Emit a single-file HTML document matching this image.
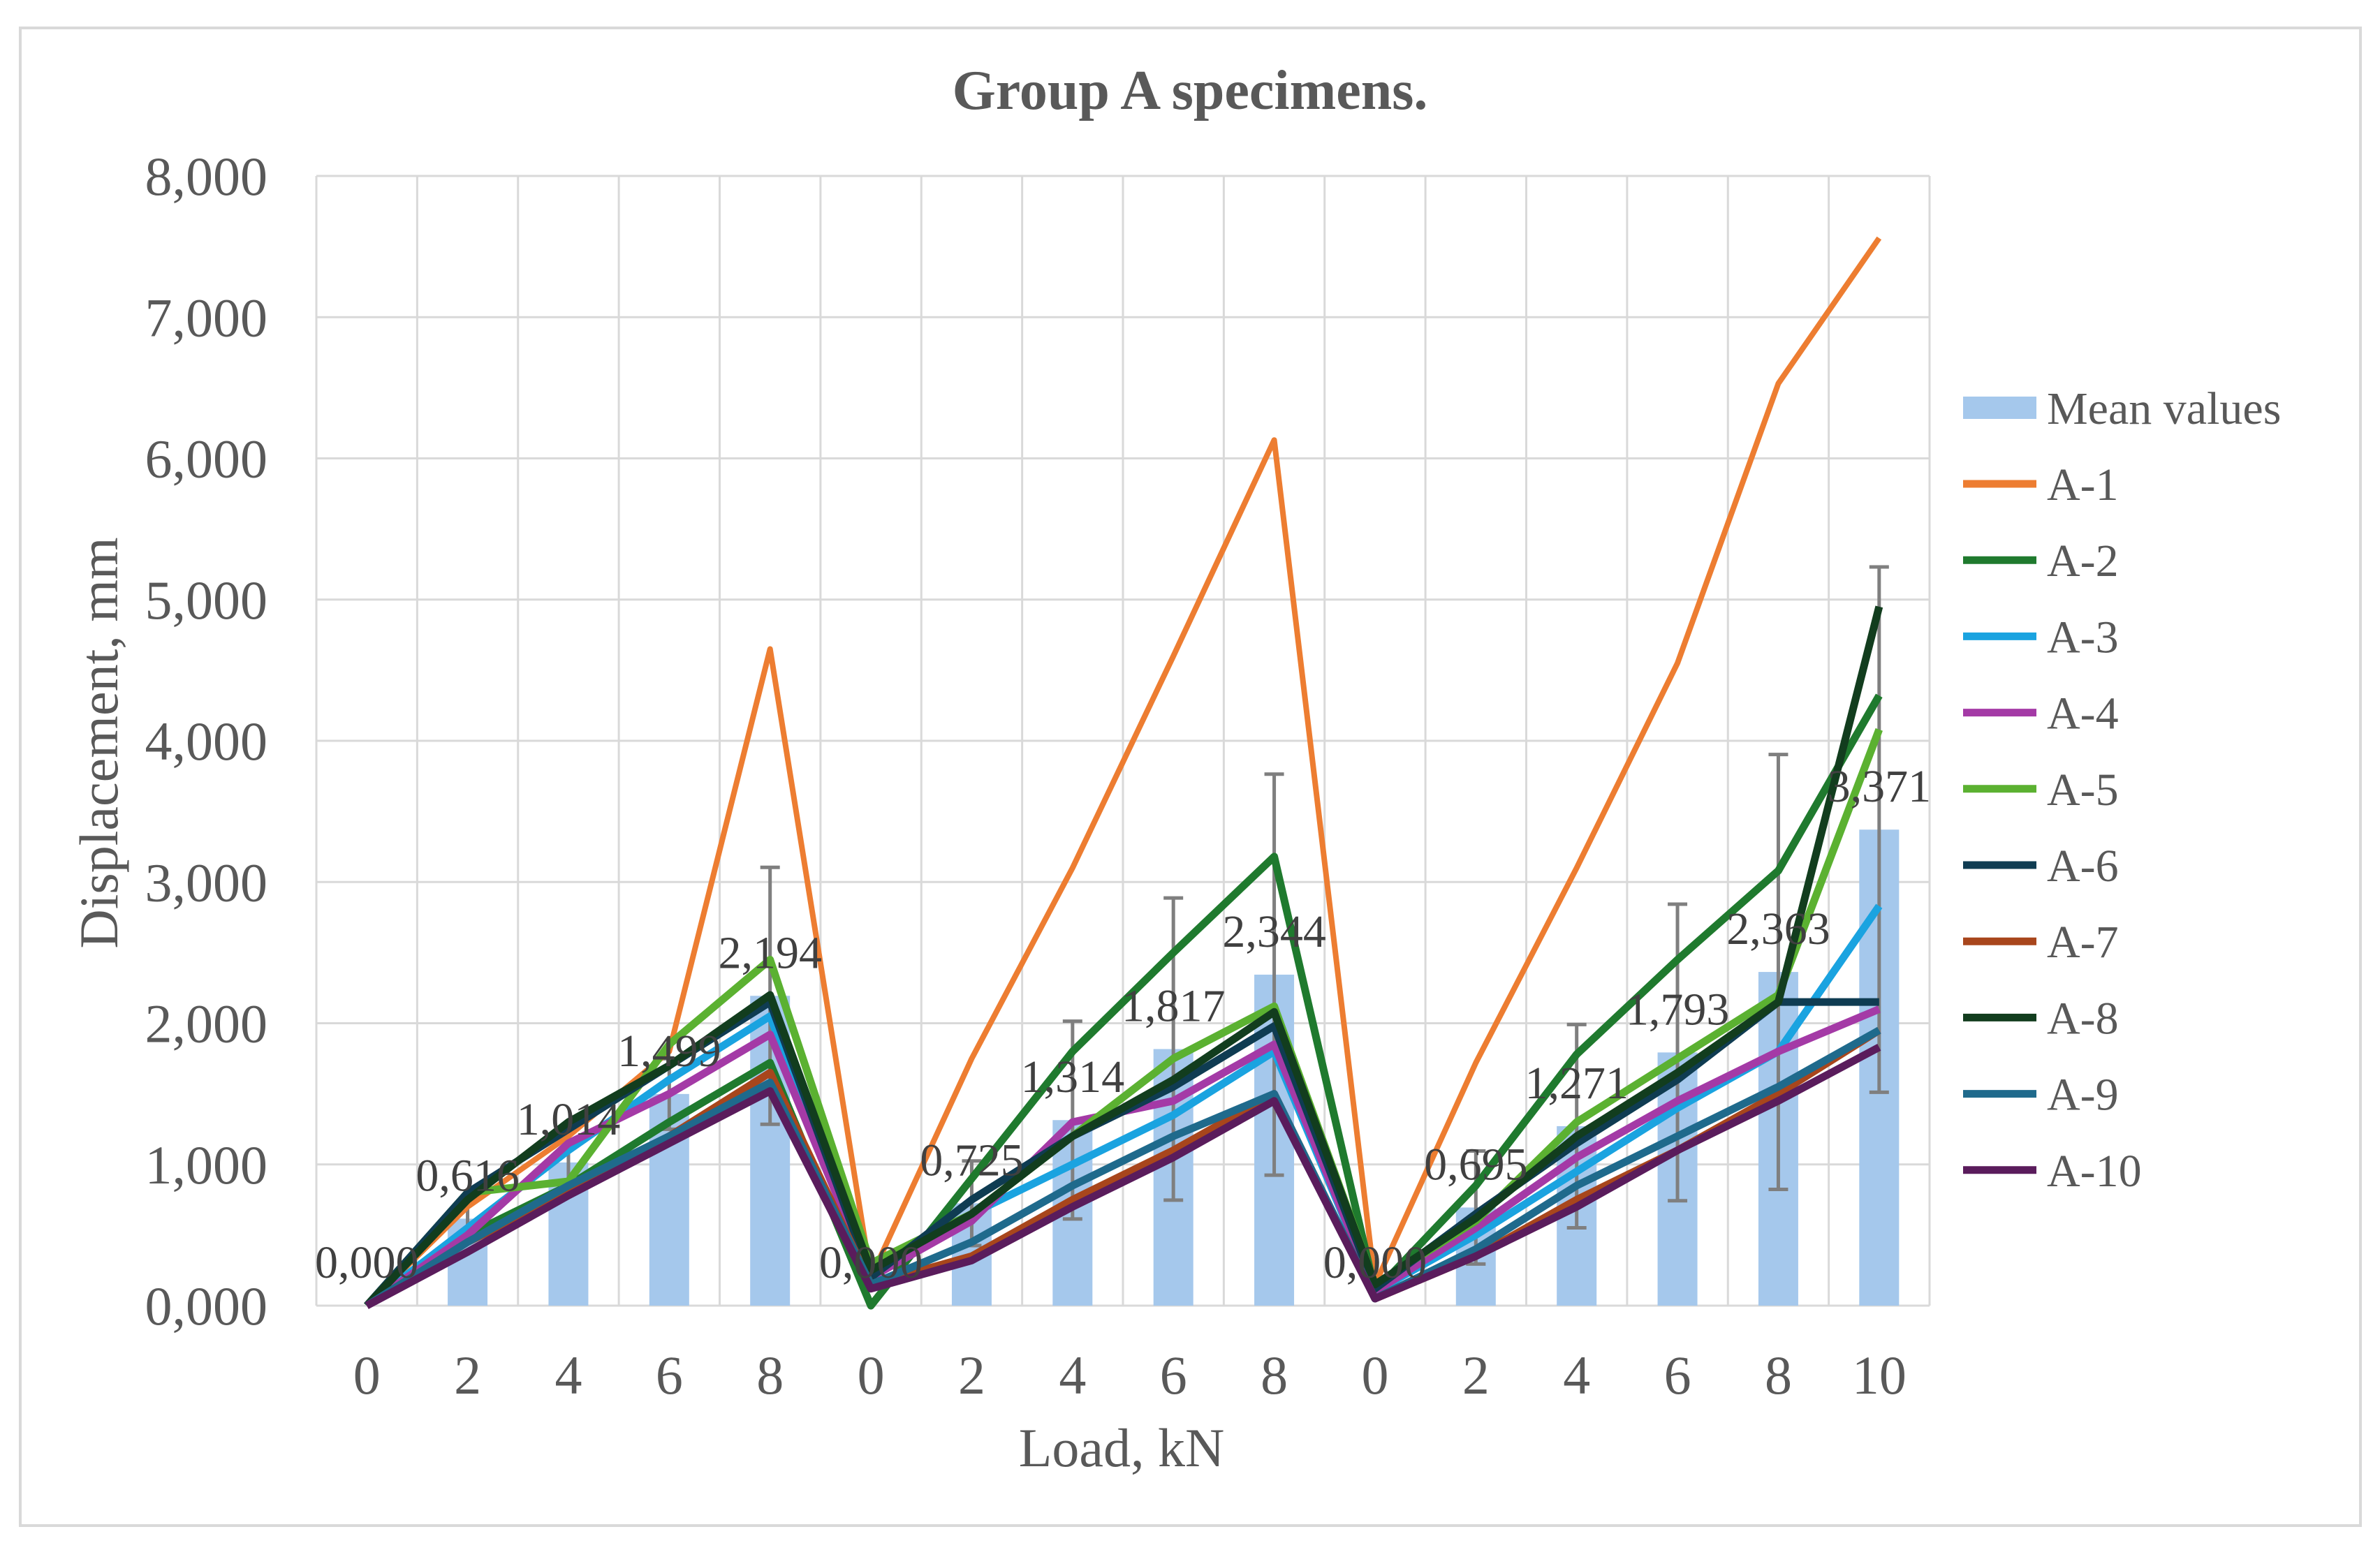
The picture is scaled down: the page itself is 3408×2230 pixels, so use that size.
<!DOCTYPE html>
<html><head><meta charset="utf-8"><style>
body{margin:0;background:#fff}
svg{display:block}
text{font-family:"Liberation Serif",serif}
</style></head><body>
<svg id="chart" width="3408" height="2230" viewBox="0 0 3408 2230">
<rect x="29" y="40" width="3351" height="2145" fill="#fff" stroke="#d9d9d9" stroke-width="4"/>
<text x="1704" y="156" text-anchor="middle" font-size="80" font-weight="bold" fill="#595959">Group A specimens.</text>
<g id="grid"></g><g id="bars"></g><g id="errs"></g><g id="lines"></g><g id="labels"></g><g id="axes"></g><g id="legend"></g>
<text x="1606" y="2100" text-anchor="middle" font-size="78" fill="#595959">Load, kN</text>
<text transform="translate(168,1064) rotate(-90)" text-anchor="middle" font-size="78" fill="#595959">Displacement, mm</text>
</svg>
<script>
const categories=["0","2","4","6","8","0","2","4","6","8","0","2","4","6","8","10"];
const meanValues=[0,0.616,1.014,1.499,2.194,0,0.725,1.314,1.817,2.344,0,0.695,1.271,1.793,2.363,3.371];
const meanErrors=[0,0.12,0.15,0.25,0.91,0,0.3,0.7,1.07,1.42,0,0.4,0.72,1.05,1.54,1.86];
const yTicks=[0,1,2,3,4,5,6,7,8];
const seriesNames=["A-1","A-2","A-3","A-4","A-5","A-6","A-7","A-8","A-9","A-10"];
const seriesColors=["#ed7d31","#1f7a2e","#1aa3e0","#a43aa6","#5bb131","#0f3c52","#a8461c","#123d1e","#1f6a8c","#5a1c5c"];
const sA1=[0,0.7,1.2,1.8,4.65,0.2,1.75,3.1,4.6,6.13,0.15,1.72,3.1,4.55,6.53,7.56];
const sA2=[0,0.5,0.85,1.3,1.72,0,0.9,1.8,2.5,3.18,0.1,0.85,1.78,2.45,3.08,4.32];
const sA3=[0,0.55,1.1,1.6,2.05,0.2,0.65,1.0,1.35,1.8,0.1,0.5,0.95,1.4,1.8,2.83];
const sA4=[0,0.5,1.15,1.5,1.92,0.2,0.6,1.3,1.45,1.85,0.1,0.55,1.05,1.45,1.8,2.1];
const sA5=[0,0.8,0.88,1.85,2.45,0.3,0.65,1.2,1.75,2.12,0.15,0.6,1.3,1.75,2.2,4.08];
const sA6=[0,0.8,1.25,1.7,2.15,0.2,0.75,1.2,1.55,1.98,0.12,0.65,1.15,1.6,2.15,2.15];
const sA7=[0,0.45,0.8,1.2,1.65,0.15,0.35,0.75,1.1,1.5,0.05,0.35,0.75,1.1,1.5,1.95];
const sA8=[0,0.75,1.3,1.7,2.2,0.25,0.65,1.2,1.6,2.08,0.15,0.62,1.2,1.65,2.15,4.95];
const sA9=[0,0.45,0.85,1.2,1.58,0.15,0.45,0.85,1.2,1.5,0.05,0.4,0.85,1.2,1.55,1.95];
const sA10=[0,0.38,0.78,1.15,1.52,0.12,0.32,0.7,1.05,1.45,0.05,0.35,0.7,1.1,1.45,1.83];
const series=[sA1,sA2,sA3,sA4,sA5,sA6,sA7,sA8,sA9,sA10];

const NS="http://www.w3.org/2000/svg";
const L=453,R=2763,T=252,B=1870,YMAX=8;
const step=(R-L)/categories.length;
const x=i=>L+step*(i+0.5);
const y=v=>B-(v/YMAX)*(B-T);
function mk(tag,parent,attrs){const e=document.createElementNS(NS,tag);for(const k in attrs)e.setAttribute(k,attrs[k]);document.getElementById(parent).appendChild(e);return e;}
const fmt=v=>v.toFixed(3).replace('.',',');

for(let i=0;i<=categories.length;i++){
 const g=mk('line','grid',{x1:L+step*i,x2:L+step*i,y1:T,y2:B,stroke:'#d9d9d9','stroke-width':3});
 
 
}
yTicks.forEach(t=>{
 const g=mk('line','grid',{x1:L,x2:R,y1:y(t),y2:y(t),stroke:'#d9d9d9','stroke-width':3});
 
 
 const tx=mk('text','axes',{x:383,y:y(t)+27,'text-anchor':'end','font-size':78,fill:'#595959'});
 tx.textContent=t.toLocaleString('en-US')+',000';
 
 
});
categories.forEach((c,i)=>{
 const tx=mk('text','axes',{x:x(i),y:1996,'text-anchor':'middle','font-size':78,fill:'#595959'});
 tx.textContent=c;
 
 
});
const bw=57;
meanValues.forEach((v,i)=>{
 const b=mk('rect','bars',{x:x(i)-bw/2,y:y(v),width:bw,height:B-y(v),fill:'#a5c8ec'});
 
 
 const e=meanErrors[i];
 if(e>0){
  const eb=mk('path','errs',{d:`M${x(i)},${y(v+e)}V${y(Math.max(0,v-e))}M${x(i)-14},${y(v+e)}h28M${x(i)-14},${y(Math.max(0,v-e))}h28`,stroke:'#7f7f7f','stroke-width':5,fill:'none'});
  
  
 }
});
series.forEach((s,k)=>{
 const p=mk('polyline','lines',{points:s.map((v,i)=>x(i)+','+y(v)).join(' '),fill:'none',stroke:seriesColors[k],'stroke-width':k==0?8:11,'stroke-linejoin':'round'});
 
 
});
meanValues.forEach((v,i)=>{
 const t=mk('text','labels',{x:x(i),y:y(v)-40,'text-anchor':'middle','font-size':66,fill:'#404040'});
 t.textContent=fmt(v);
 
 
});
const lg=mk('rect','legend',{x:2811,y:568,width:105,height:32,fill:'#a5c8ec'});


const lt=mk('text','legend',{x:2931,y:607,'font-size':66,fill:'#595959'});
lt.textContent='Mean values';


seriesNames.forEach((n,k)=>{
 const yy=693+k*109.2;
 const ln=mk('line','legend',{x1:2811,x2:2916,y1:yy,y2:yy,stroke:seriesColors[k],'stroke-width':11});
 
 
 const tx=mk('text','legend',{x:2931,y:yy+23,'font-size':66,fill:'#595959'});
 tx.textContent=n;
 
 
});
</script>
</body></html>
